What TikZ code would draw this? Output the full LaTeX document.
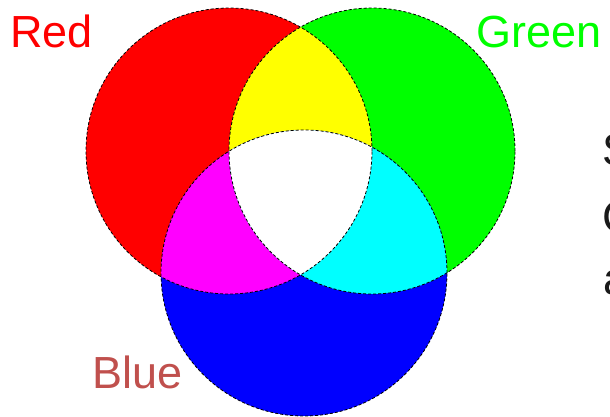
\documentclass[tikz,border=0pt]{standalone}
\usepackage{fontspec}
\setmainfont{Liberation Sans}
\definecolor{bluetext}{RGB}{192,80,77}
\definecolor{darktext}{RGB}{25,25,25}
\definecolor{pred}{RGB}{255,0,0}
\definecolor{pgreen}{RGB}{0,255,0}
\definecolor{pblue}{RGB}{0,0,255}
\definecolor{pyellow}{RGB}{255,255,0}
\definecolor{pmagenta}{RGB}{255,0,255}
\definecolor{pcyan}{RGB}{0,255,255}
\begin{document}
\begin{tikzpicture}[x=1pt,y=-1pt,
  ring/.style={black,dash pattern=on 3pt off 2pt,line width=0.8pt},
  word/.style={anchor=base west,inner sep=0pt,font=\fontsize{45}{52}\selectfont}]
\useasboundingbox (0,0) rectangle (610,417);
\clip (0,0) rectangle (610,417);
\coordinate (R) at (229,151);
\coordinate (G) at (372,151);
\coordinate (B) at (304,273);
% primaries
\fill[pred] (R) circle[radius=143pt];
\fill[pgreen] (G) circle[radius=143pt];
\fill[pblue] (B) circle[radius=143pt];
% overlaps
\begin{scope}
  \clip (R) circle[radius=143pt];
  \fill[pyellow] (G) circle[radius=143pt];
  \fill[pmagenta] (B) circle[radius=143pt];
\end{scope}
\begin{scope}
  \clip (G) circle[radius=143pt];
  \fill[pcyan] (B) circle[radius=143pt];
  \clip (R) circle[radius=143pt];
  \fill[white] (B) circle[radius=143pt];
\end{scope}
\foreach \c in {R,G,B}
  \draw[ring] (\c) circle[radius=143pt];
\node[word,text=pred] (redlbl) at (10,48) {Red};
\node[word,text=pgreen] (greenlbl) at (476,48) {Green};
\node[word,text=bluetext] (bluelbl) at (92,388) {Blue};
\node[word,text=darktext] (s) at (602,165) {S};
\node[word,text=darktext] (c) at (602,232) {C};
\node[word,text=darktext] (a) at (603,294) {a};
\end{tikzpicture}
\end{document}
